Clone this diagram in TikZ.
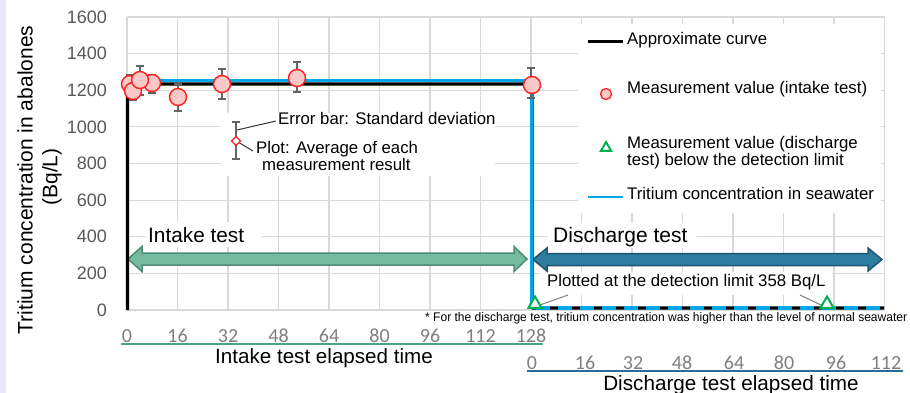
\documentclass[tikz,border=0pt]{standalone}
\usepackage{fontspec}
\usepackage{graphicx}
\setmainfont{Liberation Sans}
\newfontfamily\tickfont{Carlito}
\usetikzlibrary{shapes.geometric}
\definecolor{gridc}{RGB}{217,217,217}
\definecolor{tickc}{RGB}{89,89,89}
\definecolor{tickx}{RGB}{128,128,128}
\definecolor{seab}{RGB}{0,166,230}
\definecolor{mred}{RGB}{255,30,30}
\definecolor{mpink}{RGB}{250,200,200}
\definecolor{mgreen}{RGB}{0,176,80}
\definecolor{inf}{RGB}{116,186,160}
\definecolor{ind}{RGB}{80,140,115}
\definecolor{dcf}{RGB}{45,125,160}
\definecolor{dcd}{RGB}{30,85,115}
\definecolor{lav}{RGB}{232,232,248}
\definecolor{errc}{RGB}{100,100,100}
\definecolor{intl}{RGB}{70,165,135}
\definecolor{disl}{RGB}{40,110,150}
\newcommand\fntext{* For the discharge test, tritium concentration was higher than the level of normal seawater}
\newlength\fnw
\begin{document}
\settowidth\fnw{\fontsize{12.5}{14}\selectfont\fntext}%
\pgfmathsetmacro\fnsc{482/\fnw}%
\begin{tikzpicture}[x=1pt,y=-1pt,
  gridl/.style={draw=gridc,line width=1.2pt},
  lbl/.style={inner sep=0,font=\fontsize{16.8}{19}\selectfont,text height=0.75em,text depth=0.25em},
  ytick/.style={inner sep=0,anchor=east,text=tickc,font=\fontsize{18}{20}\selectfont},
  xtick/.style={inner sep=0,text=tickx,font=\tickfont\fontsize{20}{22}\selectfont},
  approx/.style={draw=black,line width=3.2pt,line join=round},
  sea/.style={draw=seab,line width=2.8pt},
  errbar/.style={draw=errc,line width=1.2pt},
  meas/.style={circle,draw=mred,fill=mpink,line width=1.4pt,minimum size=17pt,inner sep=0},
  tri/.style={regular polygon,regular polygon sides=3,draw=mgreen,fill=white,line width=2pt,minimum size=15pt,inner sep=0},
  leader/.style={draw=black!80,line width=1pt}]
\useasboundingbox (0,0) rectangle (910,393);
\fill[white] (0,0) rectangle (910,393);
\fill[lav] (0,0) rectangle (6,393);
% grid
\foreach \k in {0,...,15} \draw[gridl] ({127+50.5*\k},17) -- ({127+50.5*\k},310);
\foreach \k in {0,...,8} \draw[gridl] (127,{17+36.625*\k}) -- (884.5,{17+36.625*\k});
% white areas
\fill[white] (578,24) rectangle (881,213);
\fill[white] (221,113) rectangle (495,176);
\fill[white] (146,222) rectangle (262,247);
\fill[white] (548,223) rectangle (697,248);
\fill[white] (541,272) rectangle (832,295);
% y ticks
\foreach \v/\yy in {1600/17,1400/53.6,1200/90.25,1000/126.9,800/163.5,600/200.1,400/236.75,200/273.4,0/310}
  \node[ytick] (yt\v) at (107,\yy) {\v};
% axis titles
\node[rotate=90,inner sep=0,font=\fontsize{21}{24}\selectfont] (ylab) at (25,180) {Tritium concentration in abalones};
\node[rotate=90,inner sep=0,font=\fontsize{21}{24}\selectfont] (ylab2) at (52,177) {(Bq/L)};
% x ticks intake
\foreach \t in {0,16,32,48,64,80,96,112,128}
  \node[xtick] (it\t) at ({127+3.15625*\t},336) {\t};
\draw[intl,line width=1.3pt] (121,344) -- (543,344);
\node[inner sep=0,font=\fontsize{20.6}{23}\selectfont] (ixl) at (324,358) {Intake test elapsed time};
% x ticks discharge
\foreach \t/\xx in {0/532,16/585,32/633,48/682,64/734,80/784,96/836,112/886}
  \node[xtick] (dt\t) at (\xx,363) {\t};
\draw[disl,line width=1.3pt] (527,371) -- (903,371);
\node[inner sep=0,font=\fontsize{20.7}{23}\selectfont] (dxl) at (731,385) {Discharge test elapsed time};
% footnote
\node[anchor=west,inner sep=0] (foot) at (425,318) {\fontsize{12.5}{14}\selectfont\scalebox{\fnsc}[1]{\fntext}};
% arrows
\draw[ind,fill=inf,line width=1.5pt,line join=miter] (128,259) -- (142,246.5) -- (142,253) -- (514,253) -- (514,246.5) -- (527,259) -- (514,271.5) -- (514,265) -- (142,265) -- (142,271.5) -- cycle;
\draw[dcd,fill=dcf,line width=1.5pt,line join=miter] (533,259.5) -- (547,248) -- (547,253.5) -- (868,253.5) -- (868,248) -- (882,259.5) -- (868,271) -- (868,265.5) -- (547,265.5) -- (547,271) -- cycle;
\node[anchor=west,inner sep=0,font=\fontsize{20.8}{23}\selectfont] (intk) at (148,235) {Intake test};
\node[anchor=west,inner sep=0,font=\fontsize{21}{23}\selectfont] (disc) at (553,237) {Discharge test};
\node[lbl,anchor=west] (plotted) at (547,284) {Plotted at the detection limit 358 Bq/L};
% curves
\draw[approx] (127.5,310) -- (127.5,88) -- (131,84) -- (532,84) -- (532,308) -- (884,308);
\draw[sea,line join=round] (131,80.5) -- (531.5,80.5) -- (531.5,308);
\draw[sea,line width=3.5pt,dash pattern=on 14pt off 8pt] (536,308) -- (882,308);
% error bars
\foreach \xx/\ta/\tb in {130/75/93,133/82/100,140/66/95,152/75/93,178/84/111,222/69/99,297/62/92,531/68/98}
  \draw[errbar] (\xx-4,\ta) -- (\xx+4,\ta) (\xx,\ta) -- (\xx,\tb) (\xx-4,\tb) -- (\xx+4,\tb);
% measurement markers
\node[meas] (m1) at (130,84) {};
\node[meas] (m2) at (133,91) {};
\node[meas] (m3) at (152,83) {};
\node[meas] (m4) at (140,80) {};
\node[meas] (m5) at (178,97) {};
\node[meas] (m6) at (222,84) {};
\node[meas] (m7) at (297,78) {};
\node[meas] (m8) at (532,85) {};
% detection-limit triangles
\draw[leader,draw=gray] (540,305) -- (568,295);
\draw[leader,draw=gray] (800,295) -- (823,306);
\node[tri] (t1) at (535,304) {};
\node[tri] (t2) at (827,304) {};
% annotation
\draw[errbar] (232,122) -- (240,122) (236,122) -- (236,159) (232,159) -- (240,159);
\draw[leader] (237,130) -- (276,121);
\draw[leader] (238,142) -- (253,151);
\draw[mred,fill=white,line width=1.2pt] (236,136.5) -- (240.5,141) -- (236,145.5) -- (231.5,141) -- cycle;
\node[lbl,anchor=west] (eb) at (278,122) {Error bar: Standard deviation};
\node[lbl,anchor=west] (pa) at (256,151) {Plot: Average of each};
\node[lbl,anchor=west] (pa2) at (262,168) {measurement result};
% legend
\draw[black,line width=3pt] (588,42) -- (623,42);
\node[lbl,anchor=west] (lg1) at (627,42) {Approximate curve};
\node[circle,draw=mred,fill=mpink,line width=1.3pt,minimum size=11pt,inner sep=0] (lgc) at (606,94) {};
\node[lbl,anchor=west] (lg2) at (627,91) {Measurement value (intake test)};
\node[regular polygon,regular polygon sides=3,draw=mgreen,fill=white,line width=2pt,minimum size=12pt,inner sep=0] (lgt) at (606,148) {};
\node[lbl,anchor=west] (lg3) at (627,146) {Measurement value (discharge};
\node[lbl,anchor=west] (lg3b) at (627,163) {test) below the detection limit};
\draw[seab,line width=2.5pt] (588,197) -- (623,197);
\node[lbl,anchor=west] (lg4) at (627,197) {Tritium concentration in seawater};
\end{tikzpicture}
\end{document}
